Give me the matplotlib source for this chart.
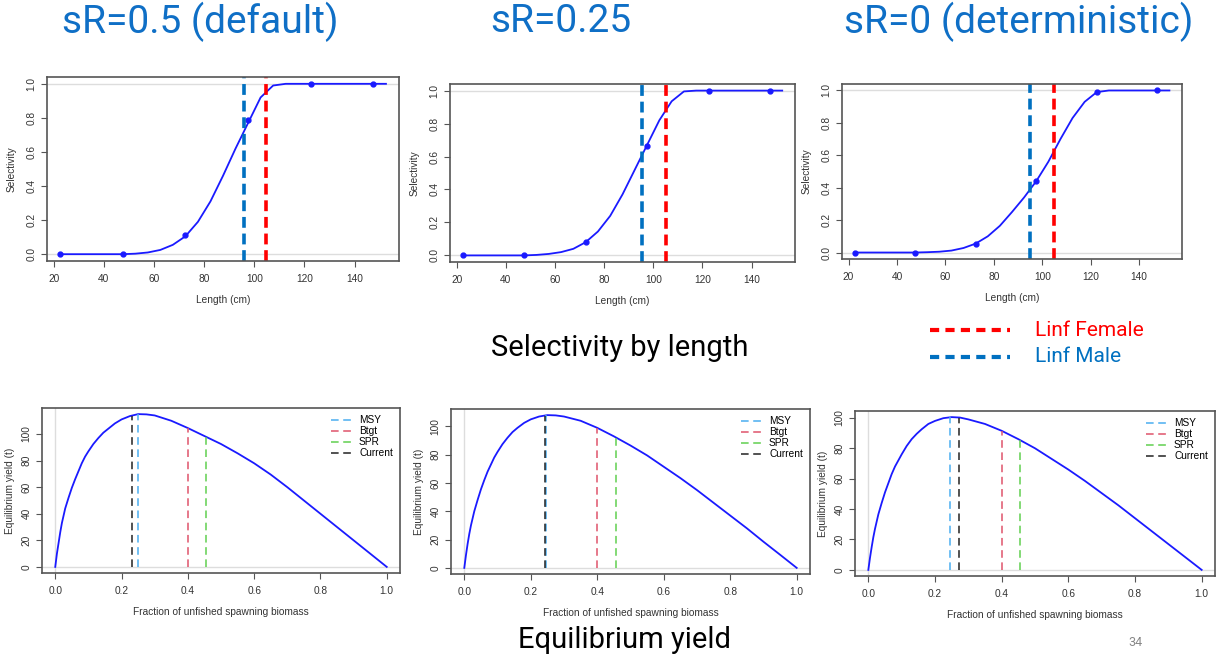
import numpy as np
import matplotlib
matplotlib.use("Agg")
from matplotlib import pyplot as plt

# ---- data -----------------------------------------------------------
scenarios = ["sR=0.5 (default)", "sR=0.25", "sR=0 (deterministic)"]

sel_len = [22.5, 27.5, 32.5, 37.5, 42.5, 47.5, 52.5, 57.5, 62.5, 67.5, 72.5, 77.5,
           82.5, 87.5, 92.5, 97.5, 102.5, 107.5, 112.5, 117.5, 122.5, 127.5,
           132.5, 137.5, 142.5, 147.5, 152.5]
sel_05 = [0, 0, 0, 0, 0, 0, 0.003, 0.01, 0.025, 0.055, 0.105, 0.19, 0.31, 0.46,
          0.62, 0.77, 0.92, 0.99, 1, 1, 1, 1, 1, 1, 1, 1, 1]
sel_025 = [0, 0, 0, 0, 0, 0, 0.003, 0.009, 0.02, 0.04, 0.08, 0.145, 0.24, 0.37,
           0.52, 0.67, 0.82, 0.935, 0.995, 1, 1, 1, 1, 1, 1, 1, 1]
sel_0 = [0, 0, 0, 0, 0, 0, 0.002, 0.005, 0.012, 0.028, 0.055, 0.10, 0.165, 0.25,
         0.34, 0.44, 0.56, 0.70, 0.83, 0.93, 0.99, 1, 1, 1, 1, 1, 1]
sel_curves = [sel_05, sel_025, sel_0]

pt_len = [22.5, 47.5, 72.5, 97.5, 122.5, 147.5]
pt_05 = [0, 0, 0.11, 0.79, 1.0, 1.0]
pt_025 = [0, 0, 0.08, 0.665, 1.0, 1.0]
pt_0 = [0, 0, 0.055, 0.44, 0.99, 1.0]
sel_points = [pt_05, pt_025, pt_0]

linf_male = [96, 95.5, 95]
linf_female = [104.7, 105, 105]

frac = [0, 0.005, 0.01, 0.015, 0.02, 0.03, 0.04, 0.05, 0.06, 0.07, 0.08, 0.09,
        0.10, 0.115, 0.13, 0.145, 0.16, 0.18, 0.20, 0.225, 0.25, 0.275, 0.30,
        0.35, 0.40, 0.45, 0.50, 0.55, 0.60, 0.65, 0.70, 0.75, 0.80, 0.85, 0.90,
        0.95, 1.0]
yield_05 = [0, 10, 18, 26, 33, 44, 52, 59.5, 66, 72, 78, 83, 87, 92.5, 97, 101,
            104, 108, 111, 113.5, 115, 114.8, 114, 110, 104.5, 98.5, 92.5, 85.5,
            78, 69.5, 60, 50, 40, 30, 20, 10, 0]
yield_025 = [0, 9, 17, 24, 30, 40, 48, 55.5, 62, 68, 73, 78, 82, 87.5, 92, 96,
             99, 102.5, 105, 107, 108, 107.8, 107, 104, 99, 93, 86.5, 79.5,
             71.5, 63.5, 55, 46, 37, 28, 18.5, 9.3, 0]
yield_0 = [0, 8, 15, 21.5, 27, 36.5, 44, 51, 57, 63, 68, 72, 76, 81.5, 86, 89.5,
           92.5, 96, 98, 99.8, 100.5, 100.2, 99, 96, 91.5, 86, 80, 73, 66, 58.5,
           50.5, 42.5, 34, 25.5, 17, 8.5, 0]
yield_curves = [yield_05, yield_025, yield_0]

ref_names = ["MSY", "Btgt", "SPR", "Current"]
ref_colors = ["#4aaef0", "#df536b", "#61d04f", "#222222"]
ref_msy = [0.25, 0.247, 0.245]
ref_btgt = [0.40, 0.40, 0.40]
ref_spr = [0.455, 0.455, 0.455]
ref_current = [0.232, 0.243, 0.273]

# ---- layout ---------------------------------------------------------
W, H = 1225, 659
BLUE_T = "#0f6fc6"
AXC = "#555555"
TXT = "#333333"
FS = 7.3

plt.rcParams['font.family'] = ['Liberation Sans', 'DejaVu Sans']
fig = plt.figure(figsize=(W / 100, H / 100), dpi=100)


def box(x0, y0, x1, y1):
    return [x0 / W, 1 - y1 / H, (x1 - x0) / W, (y1 - y0) / H]


top_boxes = [box(47, 77, 399, 261), box(450, 84, 795, 262), box(842, 84, 1182, 259)]
bot_boxes = [box(42, 408, 400, 573), box(451, 409, 810, 574), box(855, 411, 1215, 576)]


def r_style(ax):
    for s in ax.spines.values():
        s.set_color(AXC)
        s.set_linewidth(1.2)
    ax.tick_params(direction="out", length=4.5, width=0.8, color=AXC,
                   labelsize=FS, labelcolor=TXT)
    ax.tick_params(axis="x", pad=5)
    ax.tick_params(axis="y", pad=3)
    for lab in ax.get_yticklabels():
        lab.set_rotation(90)
        lab.set_va("center")


for i in range(3):
    ax = fig.add_axes(top_boxes[i])
    ax.axhline(0, color="#dddddd", lw=1)
    ax.axhline(1, color="#dddddd", lw=1)
    ax.plot(sel_len, sel_curves[i], color="#1a1aff", lw=1.3)
    ax.plot(pt_len, sel_points[i], "o", color="#1a1aff", ms=3.5)
    ax.axvline(linf_male[i], color="#0070c0", lw=2.6, ls=(0, (3, 1.6)))
    ax.axvline(linf_female[i], color="#ff0000", lw=2.6, ls=(0, (3, 1.6)))
    ax.set_xlim(17.3, 157.7)
    ax.set_ylim(-0.04, 1.04)
    ax.set_xticks([20, 40, 60, 80, 100, 120, 140])
    ax.set_yticks([0, 0.2, 0.4, 0.6, 0.8, 1.0])
    ax.set_yticklabels(["0.0", "0.2", "0.4", "0.6", "0.8", "1.0"])
    ax.set_xlabel("Length (cm)", fontsize=FS, color=TXT, labelpad=8)
    ax.set_ylabel("Selectivity", fontsize=FS, color=TXT, labelpad=7)
    r_style(ax)

for i in range(3):
    ax = fig.add_axes(bot_boxes[i])
    y = yield_curves[i]
    ymax = max(y)
    ax.axhline(0, color="#dddddd", lw=1)
    ax.axvline(0, color="#dddddd", lw=1)
    ax.plot(frac, y, color="#1a1aff", lw=1.3)
    refs = [ref_msy[i], ref_btgt[i], ref_spr[i], ref_current[i]]
    for name, c, xv in zip(ref_names, ref_colors, refs):
        ax.vlines(xv, 0, np.interp(xv, frac, y), color=c, lw=1.1,
                  ls=(0, (5, 3)), label=name)
    ax.set_xlim(-0.04, 1.04)
    ax.set_ylim(-0.04 * ymax, 1.04 * ymax)
    ax.set_xticks([0, 0.2, 0.4, 0.6, 0.8, 1.0])
    ax.set_xticklabels(["0.0", "0.2", "0.4", "0.6", "0.8", "1.0"])
    ax.set_yticks([0, 20, 40, 60, 80, 100])
    ax.set_xlabel("Fraction of unfished spawning biomass", fontsize=FS,
                  color=TXT, labelpad=8)
    ax.set_ylabel("Equilibrium yield (t)", fontsize=FS, color=TXT, labelpad=5)
    ax.legend(loc="upper right", frameon=False, fontsize=FS, handlelength=2.2,
              labelspacing=0.1, borderaxespad=0.3, handletextpad=0.6)
    r_style(ax)

# ---- slide text -----------------------------------------------------
slide_font = ['Roboto', 'Liberation Sans', 'DejaVu Sans']
for txt, xc in zip(scenarios, [200, 561, 1019]):
    fig.text(xc / W, 1 - 22 / H, txt, ha="center", va="center", fontsize=28,
             color=BLUE_T, family=slide_font)

fig.text(620 / W, 1 - 348 / H, "Selectivity by length", ha="center", va="center",
         fontsize=21, color="black", family=slide_font)
fig.text(625 / W, 1 - 640 / H, "Equilibrium yield", ha="center", va="center",
         fontsize=21, color="black", family=slide_font)
fig.text(1135 / W, 1 - 643 / H, "34", ha="center", va="center", fontsize=9,
         color="#888888", family=slide_font)

fig.add_artist(plt.Line2D([930 / W, 1010 / W], [1 - 330 / H] * 2, color="#ff0000",
                          lw=3, ls=(0, (2.2, 1.5))))
fig.add_artist(plt.Line2D([930 / W, 1010 / W], [1 - 357 / H] * 2, color="#0070c0",
                          lw=3, ls=(0, (2.2, 1.5))))
fig.text(1035 / W, 1 - 330 / H, "Linf Female", ha="left", va="center", fontsize=15,
         color="#ff0000", family=slide_font)
fig.text(1035 / W, 1 - 357 / H, "Linf Male", ha="left", va="center", fontsize=15,
         color="#0070c0", family=slide_font)

fig.savefig("out.png", dpi=100)
